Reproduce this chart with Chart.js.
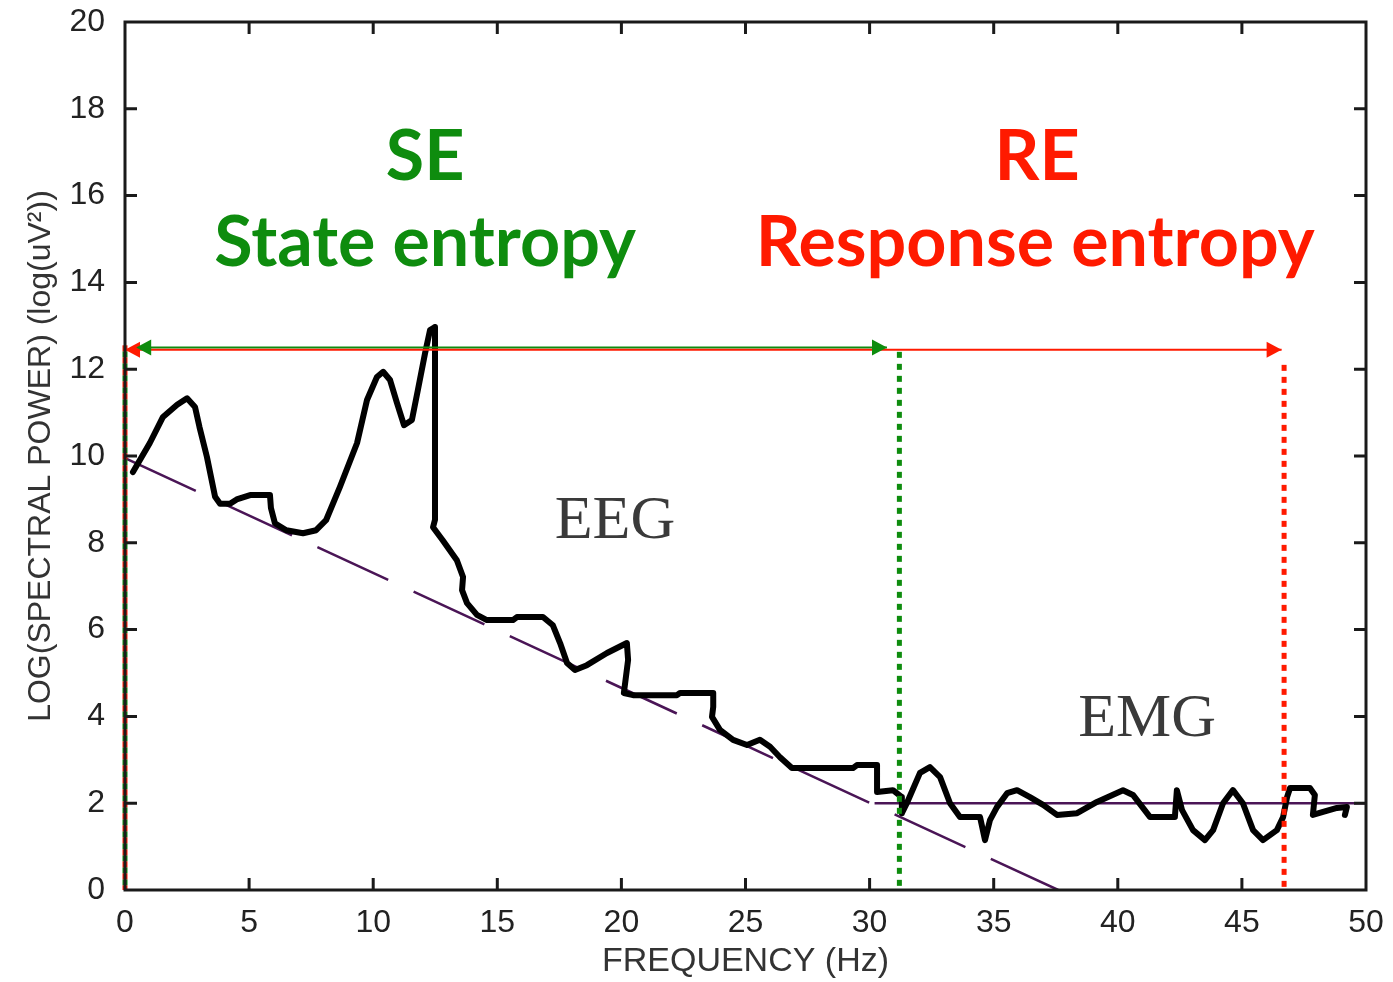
<!DOCTYPE html>
<html>
<head>
<meta charset="utf-8">
<title>EEG / EMG spectrum - state and response entropy</title>
<script src="https://cdn.jsdelivr.net/npm/chart.js@4.4.1/dist/chart.umd.min.js"></script>
<style>
  html, body { margin: 0; padding: 0; background: #fff; }
</style>
</head>
<body>
<canvas id="spectrum" width="1393" height="982"></canvas>
<script>
// spectrum trace: frequency (Hz) and log power
const curveHz = [0.32, 1.0, 1.53, 2.1, 2.5, 2.82, 3.0, 3.3, 3.63, 3.83, 4.23, 4.5, 5.04, 5.84, 5.88, 6.04, 6.5, 7.17, 7.7, 8.1,
  8.66, 9.35, 9.75, 10.15, 10.4, 10.68, 10.96, 11.24, 11.56, 11.8, 12.09, 12.29, 12.49, 12.49, 12.41, 12.8, 13.37, 13.62, 13.58, 13.78,
  14.18, 14.58, 15.63, 15.79, 16.84, 17.24, 17.53, 17.81, 18.13, 18.61, 19.42, 20.22, 20.27, 20.1, 20.47, 22.24, 22.36, 23.7, 23.7, 23.65,
  23.97, 24.5, 25.06, 25.58, 25.99, 26.39, 26.87, 29.33, 29.49, 30.3, 30.3, 30.94, 31.3, 31.3, 31.5, 32.03, 32.43, 32.84, 33.24, 33.64,
  34.45, 34.65, 34.85, 35.13, 35.54, 35.94, 36.46, 36.99, 37.55, 38.36, 39.16, 40.21, 40.61, 41.3, 42.3, 42.38, 42.59, 43.03, 43.51, 43.84,
  44.24, 44.64, 45.04, 45.45, 45.85, 46.41, 46.66, 46.82, 46.94, 47.74, 47.94, 47.86, 48.27, 48.83, 49.23, 49.15];
const curvePower = [9.63, 10.3, 10.9, 11.18, 11.33, 11.13, 10.67, 9.98, 9.06, 8.9, 8.9, 9.0, 9.1, 9.1, 8.8, 8.45, 8.29, 8.22, 8.29, 8.52,
  9.29, 10.3, 11.29, 11.82, 11.94, 11.75, 11.22, 10.71, 10.83, 11.52, 12.37, 12.9, 12.97, 8.53, 8.36, 8.06, 7.6, 7.21, 6.91, 6.61,
  6.34, 6.22, 6.22, 6.29, 6.29, 6.1, 5.69, 5.23, 5.07, 5.18, 5.46, 5.69, 5.3, 4.54, 4.49, 4.49, 4.54, 4.54, 4.22, 3.99,
  3.69, 3.46, 3.34, 3.46, 3.3, 3.06, 2.81, 2.81, 2.88, 2.88, 2.26, 2.3, 2.14, 1.77, 2.0, 2.7, 2.83, 2.6, 2.0, 1.68,
  1.68, 1.15, 1.61, 1.91, 2.23, 2.3, 2.14, 1.96, 1.73, 1.77, 2.03, 2.3, 2.19, 1.68, 1.68, 2.3, 1.84, 1.38, 1.15, 1.38,
  2.0, 2.3, 2.0, 1.38, 1.15, 1.38, 1.68, 2.14, 2.35, 2.35, 2.19, 1.73, 1.8, 1.89, 1.91, 1.73];

// 1/f trend of the EEG part and the flat EMG floor
const trendHz = [0, 37.6];
const trendPower = [9.95, 0];
const floorHz = [30.2, 50];
const floorPower = [2, 2];

// entropy bands: arrow ends and dotted limits
const seArrowHz = [0.45, 30.7];
const seArrowPower = [12.5, 12.5];
const reArrowHz = [0, 46.6];
const reArrowPower = [12.45, 12.45];
const startLimitHz = [0, 0];
const startLimitPower = [12.55, 0];
const seLimitHz = [31.2, 31.2];
const seLimitPower = [12.4, 0];
const reLimitHz = [46.7, 46.7];
const reLimitPower = [12.1, 0];

// axis ticks
const xTickValues = [0, 5, 10, 15, 20, 25, 30, 35, 40, 45, 50];
const yTickValues = [0, 2, 4, 6, 8, 10, 12, 14, 16, 18, 20];

const GREEN = '#0e8c0e';
const RED = '#ff1a00';
const PURPLE = '#4a1556';

function pts(xs, ys) {
  return xs.map((x, i) => ({ x: x, y: ys[i] }));
}

// arrow heads, in-pointing ticks, box and the text labels
const decorations = {
  id: 'decorations',
  afterDatasetsDraw(chart) {
    const ctx = chart.ctx;
    const xs = chart.scales.x, ys = chart.scales.y;

    chart.data.datasets.forEach(ds => {
      if (!ds.arrow) return;
      const a = ds.data[0], b = ds.data[ds.data.length - 1];
      const y = ys.getPixelForValue(a.y);
      [[xs.getPixelForValue(a.x), -1], [xs.getPixelForValue(b.x), 1]].forEach(([tip, dir]) => {
        ctx.save();
        ctx.fillStyle = ds.borderColor;
        ctx.beginPath();
        ctx.moveTo(tip, y);
        ctx.lineTo(tip - dir * 15, y - 8);
        ctx.lineTo(tip - dir * 15, y + 8);
        ctx.closePath();
        ctx.fill();
        ctx.restore();
      });
    });

    function label(text, x, y, font, color) {
      ctx.save();
      ctx.font = font;
      ctx.fillStyle = color;
      ctx.textAlign = 'center';
      ctx.textBaseline = 'middle';
      ctx.fillText(text, xs.getPixelForValue(x), ys.getPixelForValue(y));
      ctx.restore();
    }
    label('SE', 12.09, 16.89, 'bold 70px Lato', GREEN);
    label('State entropy', 12.09, 14.9, 'bold 70px Lato', GREEN);
    label('RE', 36.75, 16.89, 'bold 70px Lato', RED);
    label('Response entropy', 36.67, 14.9, 'bold 70px Lato', RED);
    label('EEG', 19.74, 8.48, '62px "Liberation Serif"', '#3a3a3a');
    label('EMG', 41.18, 3.92, '62px "Liberation Serif"', '#3a3a3a');
  },
  afterDraw(chart) {
    const ctx = chart.ctx;
    const a = chart.chartArea;
    const xs = chart.scales.x, ys = chart.scales.y;
    ctx.save();
    ctx.strokeStyle = '#1a1a1a';
    ctx.lineWidth = 3;
    ctx.strokeRect(a.left, a.top, a.right - a.left, a.bottom - a.top);
    ctx.beginPath();
    xTickValues.slice(1, -1).forEach(v => {
      const px = xs.getPixelForValue(v);
      ctx.moveTo(px, a.bottom); ctx.lineTo(px, a.bottom - 12);
      ctx.moveTo(px, a.top); ctx.lineTo(px, a.top + 12);
    });
    yTickValues.slice(1, -1).forEach(v => {
      const py = ys.getPixelForValue(v);
      ctx.moveTo(a.left, py); ctx.lineTo(a.left + 12, py);
      ctx.moveTo(a.right, py); ctx.lineTo(a.right - 12, py);
    });
    ctx.stroke();
    ctx.restore();
  }
};

new Chart(document.getElementById('spectrum'), {
  type: 'line',
  data: {
    datasets: [
      { data: pts(reArrowHz, reArrowPower), borderColor: RED, borderWidth: 2, arrow: true, clip: false, order: 1 },
      { data: pts(seArrowHz, seArrowPower), borderColor: GREEN, borderWidth: 2, arrow: true, clip: false, order: 2 },
      { data: pts(startLimitHz, startLimitPower), borderColor: RED, borderWidth: 5, borderDash: [6, 6], clip: false, order: 3 },
      { data: pts(startLimitHz, startLimitPower), borderColor: GREEN, borderWidth: 5, borderDash: [6, 6], borderDashOffset: 6, clip: false, order: 4 },
      { data: pts(seLimitHz, seLimitPower), borderColor: GREEN, borderWidth: 5, borderDash: [6, 6], clip: false, order: 3 },
      { data: pts(reLimitHz, reLimitPower), borderColor: RED, borderWidth: 5, borderDash: [6, 6], clip: false, order: 3 },
      { data: pts(curveHz, curvePower), borderColor: '#000', borderWidth: 6, borderJoinStyle: 'round', borderCapStyle: 'round', order: 5 },
      { data: pts(trendHz, trendPower), borderColor: PURPLE, borderWidth: 2.5, borderDash: [78, 28], order: 6 },
      { data: pts(floorHz, floorPower), borderColor: PURPLE, borderWidth: 2.5, order: 6 }
    ]
  },
  options: {
    responsive: false,
    animation: false,
    elements: { point: { radius: 0 }, line: { tension: 0, fill: false } },
    layout: { padding: { top: 22, right: 27, left: 0, bottom: 0 } },
    plugins: { legend: { display: false }, tooltip: { enabled: false } },
    scales: {
      x: {
        type: 'linear', min: 0, max: 50,
        afterBuildTicks: s => { s.ticks = xTickValues.map(v => ({ value: v })); },
        afterFit: s => { s.height = 92; s.paddingLeft = 0; s.paddingRight = 0; },
        grid: { display: false }, border: { display: false },
        ticks: { padding: 6, color: '#222', font: { family: 'Liberation Sans', size: 32 }, maxRotation: 0 },
        title: { display: true, text: 'FREQUENCY (Hz)', color: '#333', padding: { top: 0, bottom: 0 },
                 font: { family: 'Liberation Sans', size: 34 } }
      },
      y: {
        min: 0, max: 20,
        afterBuildTicks: s => { s.ticks = yTickValues.map(v => ({ value: v })); },
        afterFit: s => { s.width = 125; s.paddingTop = 0; s.paddingBottom = 0; },
        grid: { display: false }, border: { display: false },
        ticks: { padding: 12, color: '#222', font: { family: 'Liberation Sans', size: 32 } },
        title: { display: true, text: 'LOG(SPECTRAL POWER) (log(uV\u00b2))', color: '#333', padding: { top: 22, bottom: 0 },
                 font: { family: 'Liberation Sans', size: 32 } }
      }
    }
  },
  plugins: [decorations]
});
</script>
</body>
</html>
